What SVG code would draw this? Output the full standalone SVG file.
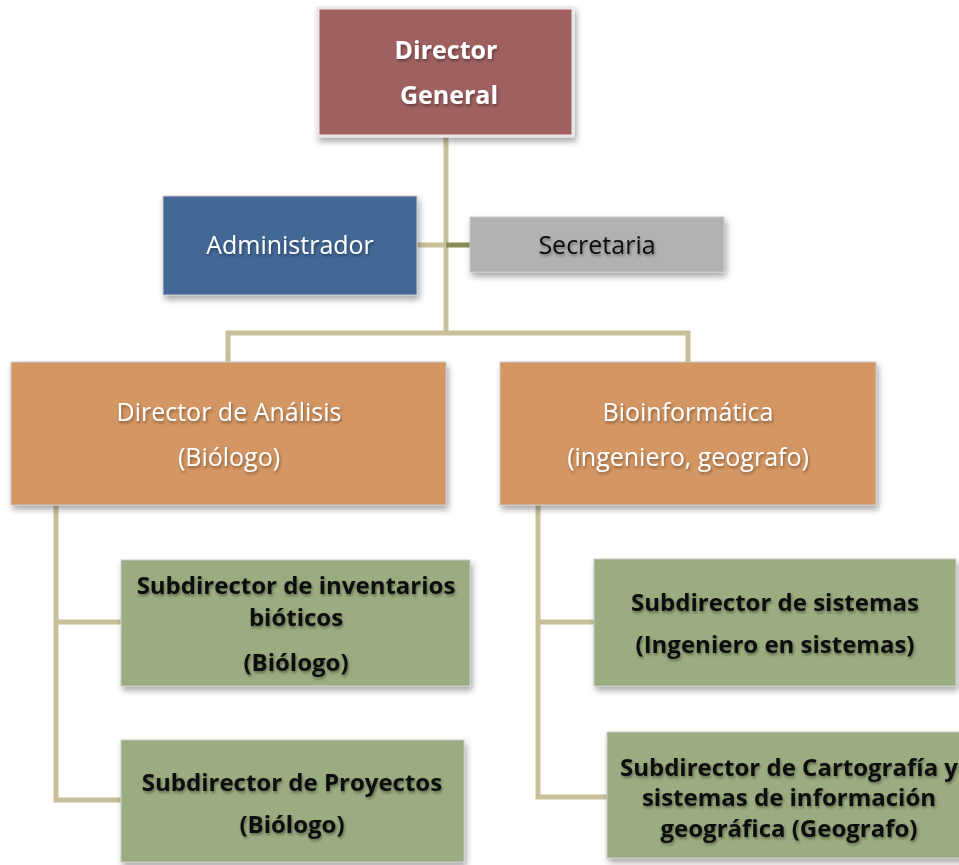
<svg xmlns="http://www.w3.org/2000/svg" width="959" height="865" viewBox="0 0 959 865">
<defs>
<filter id="sh" x="-10%" y="-10%" width="125%" height="130%">
<feDropShadow dx="2" dy="4" stdDeviation="3" flood-color="#000" flood-opacity="0.35"/>
</filter>
<filter id="ts" x="-10%" y="-30%" width="120%" height="160%">
<feDropShadow dx="1" dy="2" stdDeviation="1.5" flood-color="#000" flood-opacity="0.4"/>
</filter>
</defs>
<style>
.box{stroke:#c9c9c9;stroke-width:1;filter:url(#sh)}
.red{fill:#a06060;stroke:#e8e8e8;stroke-width:3}
.blue{fill:#426896}
.gray{fill:#b2b2b2}
.orange{fill:#d49664}
.green{fill:#9bad80}
.t{font-family:"Open Sans","Noto Sans",sans-serif;text-anchor:middle;filter:url(#ts)}
.w{fill:#fff}
.k{fill:#111}
.b{font-weight:bold}
.c{fill:none;stroke:#c8c09a;stroke-width:5}
</style>
<g id="connectors">
<path class="c" d="M446 136 V333"/>
<path class="c" d="M417 245 H446"/>
<path d="M446 245 H470" fill="none" stroke="#8a8a55" stroke-width="5"/>
<path class="c" d="M228 362 V333 H688 V362"/>
<path class="c" d="M56 505 V800 H121 M56 622 H121"/>
<path class="c" d="M538 505 V797 H607 M538 622 H594"/>
</g>
<g id="director-general">
<rect class="box red" x="318" y="8" width="255" height="128"/>
<text class="t w b" font-size="25" x="446" y="59">Director</text>
<text class="t w b" font-size="25" x="449" y="104">General</text>
</g>
<g id="administrador">
<rect class="box blue" x="163" y="196" width="254" height="99"/>
<text class="t w" font-size="25" x="290" y="254">Administrador</text>
</g>
<g id="secretaria">
<rect class="box gray" x="470" y="217" width="254" height="55"/>
<text class="t k" font-size="25" x="597" y="254">Secretaria</text>
</g>
<g id="director-analisis">
<rect class="box orange" x="11" y="362" width="435" height="143"/>
<text class="t w" font-size="25" x="229" y="421">Director de Análisis</text>
<text class="t w" font-size="25" x="229" y="466">(Biólogo)</text>
</g>
<g id="bioinformatica">
<rect class="box orange" x="500" y="362" width="376" height="143"/>
<text class="t w" font-size="25" x="688" y="421">Bioinformática</text>
<text class="t w" font-size="25" x="688" y="466">(ingeniero, geografo)</text>
</g>
<g id="subdir-inventarios">
<rect class="box green" x="121" y="560" width="349" height="126"/>
<text class="t k b" font-size="24" x="296" y="594">Subdirector de inventarios</text>
<text class="t k b" font-size="24" x="296" y="626">bióticos</text>
<text class="t k b" font-size="24" x="296" y="671">(Biólogo)</text>
</g>
<g id="subdir-proyectos">
<rect class="box green" x="121" y="740" width="343" height="122"/>
<text class="t k b" font-size="24" x="292" y="791">Subdirector de Proyectos</text>
<text class="t k b" font-size="24" x="292" y="833">(Biólogo)</text>
</g>
<g id="subdir-sistemas">
<rect class="box green" x="594" y="559" width="362" height="127"/>
<text class="t k b" font-size="24" x="775" y="611">Subdirector de sistemas</text>
<text class="t k b" font-size="24" x="775" y="653">(Ingeniero en sistemas)</text>
</g>
<g id="subdir-cartografia">
<rect class="box green" x="607" y="732" width="360" height="126"/>
<text class="t k b" font-size="24" x="789" y="776">Subdirector de Cartografía y</text>
<text class="t k b" font-size="24" x="789" y="806">sistemas de información</text>
<text class="t k b" font-size="24" x="789" y="837">geográfica (Geografo)</text>
</g>
</svg>
